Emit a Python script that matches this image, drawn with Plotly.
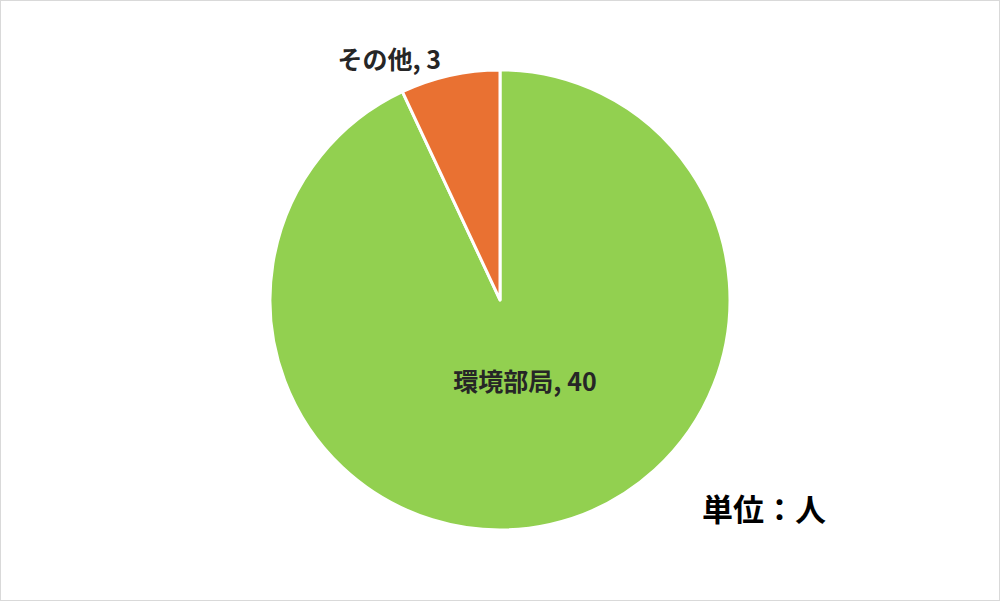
import plotly.graph_objects as go

labels = ["環境部局", "その他"]
values = [40, 3]
colors = ["#92d050", "#e97132"]
text_positions = ["inside", "outside"]
# extra blank lines lift the inside label towards the pie centre
text_templates = ["%{label}, %{value}<br> <br> ", "%{label}, %{value}"]

fig = go.Figure()
fig.add_trace(go.Pie(
    labels=labels,
    values=values,
    sort=False,
    direction="clockwise",
    rotation=0,
    marker=dict(colors=colors, line=dict(color="white", width=3)),
    texttemplate=text_templates,
    textposition=text_positions,
    insidetextorientation="horizontal",
    textfont=dict(family="Noto Sans CJK JP", size=25, color="#262626", weight="bold"),
    showlegend=False,
    domain=dict(x=[0.27, 0.73], y=[0.118, 0.884]),
    hoverinfo="skip",
))

fig.add_annotation(
    text="単位：人", x=0.764, y=0.156, xref="paper", yref="paper",
    showarrow=False, xanchor="center", yanchor="middle",
    font=dict(family="Noto Sans CJK JP", size=31, color="black", weight="bold"),
)

fig.add_shape(type="rect", xref="paper", yref="paper", x0=0, y0=0, x1=1, y1=1,
              line=dict(color="#d9d9d9", width=2))

fig.update_layout(
    width=1000, height=601,
    margin=dict(l=0, r=0, t=0, b=0),
    paper_bgcolor="white",
    plot_bgcolor="white",
)

fig.write_html("out.html", config={"displayModeBar": False},
               post_script="document.body.style.margin='0';")
